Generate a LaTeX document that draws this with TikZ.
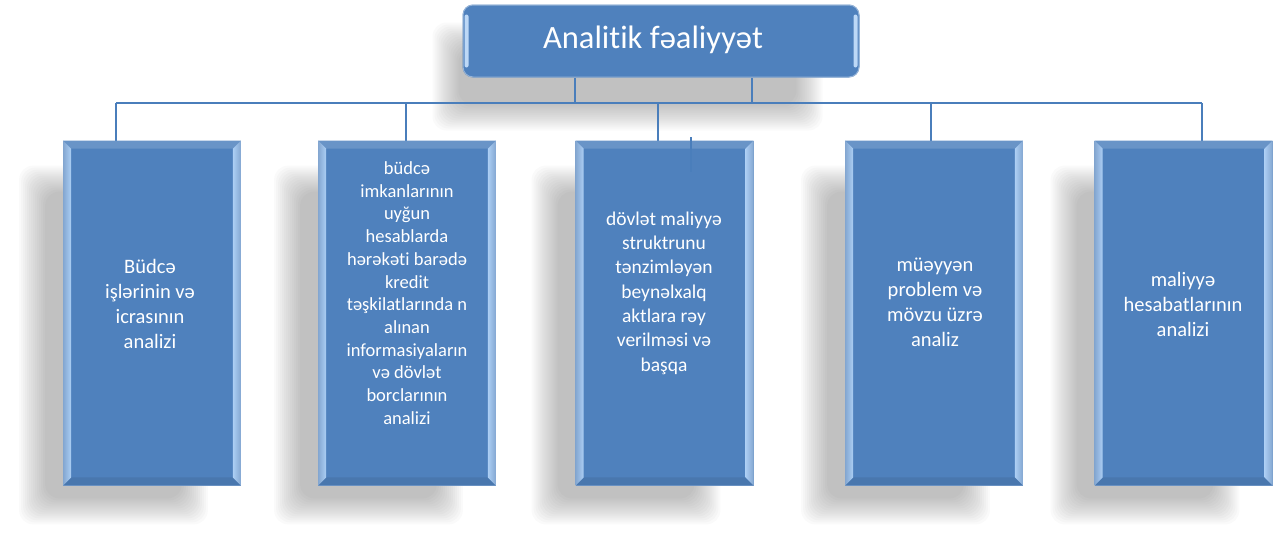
\documentclass[tikz,border=0pt]{standalone}
\usepackage{fontspec}
\setmainfont{Carlito}[Ligatures=NoCommon]

\definecolor{boxblue}{RGB}{79,129,189}
\definecolor{edgelight}{RGB}{172,206,244}
\definecolor{linkblue}{RGB}{74,126,187}

\tikzset{
  box/.style={fill=boxblue, draw=boxblue!75!white, line width=0.8pt,
    minimum width=177pt, minimum height=344pt, inner sep=0pt},
  headbox/.style={fill=boxblue, draw=boxblue!60!white, line width=1pt,
    rounded corners=10pt, minimum width=396pt, minimum height=72pt, inner sep=0pt},
  boxtext/.style={text=white, align=center, inner sep=0pt,
    font=\fontsize{20.5}{25}\selectfont},
  link/.style={draw=linkblue, line width=1.5pt},
}

% soft shadow behind a node: #1 node, #2..#5 = left/top/right/bottom shifts
\newcommand{\softshadow}[5]{%
  \foreach \k in {0,...,13}{%
    \fill[black, opacity=0.02, rounded corners=14pt]
      ([shift={({#2-12+2*\k},{#3-12+2*\k})}]#1.north west) rectangle
      ([shift={({#4+12-2*\k},{#5+12-2*\k})}]#1.south east);
  }%
}

% bevelled edges of a column box
\newcommand{\bevelbox}[1]{%
  \fill[boxblue!85!white] (#1.north west) -- (#1.north east)
    -- ([shift={(-8,8)}]#1.north east) -- ([shift={(8,8)}]#1.north west) -- cycle;
  \fill[boxblue!92!black] (#1.south west) -- (#1.south east)
    -- ([shift={(-8,-8)}]#1.south east) -- ([shift={(8,-8)}]#1.south west) -- cycle;
  \shade[left color=boxblue!70!white, right color=edgelight]
    (#1.north west) -- ([shift={(8,8)}]#1.north west)
    -- ([shift={(8,-8)}]#1.south west) -- (#1.south west) -- cycle;
  \shade[left color=edgelight, right color=boxblue!70!white]
    (#1.north east) -- ([shift={(-8,8)}]#1.north east)
    -- ([shift={(-8,-8)}]#1.south east) -- (#1.south east) -- cycle;
}

\begin{document}
\begin{tikzpicture}[x=1pt, y=-1pt]

  %% boxes (drawn empty first, texts come later)
  \path node[headbox] (top) at (661,41) {}
        node[box] (b1) at (152,313) {}
        node[box] (b2) at (407,313) {}
        node[box] (b3) at (664.5,313) {}
        node[box] (b4) at (934,313) {}
        node[box] (b5) at (1183.5,313) {};

  %% shadows
  \softshadow{top}{-18}{30}{-49}{41}
  \softshadow{b1}{-32}{37}{-45}{27}
  \softshadow{b2}{-32}{37}{-45}{27}
  \softshadow{b3}{-32}{37}{-45}{27}
  \softshadow{b4}{-32}{37}{-45}{27}
  \softshadow{b5}{-32}{37}{-45}{27}

  %% bus line and drops
  \coordinate (tapA) at (575,103);
  \coordinate (tapB) at (752,103);
  \coordinate (d1) at (116,103);
  \coordinate (d2) at (406,103);
  \coordinate (d3) at (658,103);
  \coordinate (d4) at (931,103);
  \coordinate (d5) at (1202,103);
  \coordinate (stubtop) at (691,137);
  \coordinate (stubend) at (691,172);

  \draw[link] (tapA |- top.south) -- (tapA);
  \draw[link] (tapB |- top.south) -- (tapB);
  \draw[link] (d1) -- (d5);
  \foreach \i in {1,...,5}
    \draw[link] (d\i) -- (d\i |- b\i.north);

  %% redraw boxes on top
  \node[headbox] at (top) {};
  \fill[edgelight!80!white, rounded corners=2pt]
    ([shift={(2,10)}]top.north west) rectangle ([shift={(6,-10)}]top.south west);
  \fill[edgelight!80!white, rounded corners=2pt]
    ([shift={(-6,10)}]top.north east) rectangle ([shift={(-2,-10)}]top.south east);
  \foreach \i in {1,...,5}{
    \node[box] at (b\i) {};
    \bevelbox{b\i}
  }
  \draw[link, line width=1.2pt] (stubtop) -- (stubend);

  %% texts
  \node[text=white, font=\fontsize{32.5}{38}\selectfont] (ttop) at (653,40) {Analitik fəaliyyət};
  \node[boxtext] (t1) at (150,304) {Büdcə\\işlərinin və\\icrasının\\analizi};
  \node[boxtext, font=\fontsize{18.5}{22.7}\selectfont] (t2) at (407,293)
    {büdcə\\imkanlarının\\uyğun\\hesablarda\\hərəkəti barədə\\kredit\\təşkilatlarında n\\alınan\\informasiyaların\\və dövlət\\borclarının\\analizi};
  \node[boxtext, font=\fontsize{19.5}{24.3}\selectfont] (t3) at (664,293)
    {dövlət maliyyə\\struktrunu\\tənzimləyən\\beynəlxalq\\aktlara rəy\\verilməsi və\\başqa};
  \node[boxtext] (t4) at (935,302) {müəyyən\\problem və\\mövzu üzrə\\analiz};
  \node[boxtext] (t5) at (1183,304) {maliyyə\\hesabatlarının\\analizi};

  \pgfresetboundingbox
  \path[use as bounding box] (0,0) rectangle (1280,533);
\end{tikzpicture}
\end{document}
